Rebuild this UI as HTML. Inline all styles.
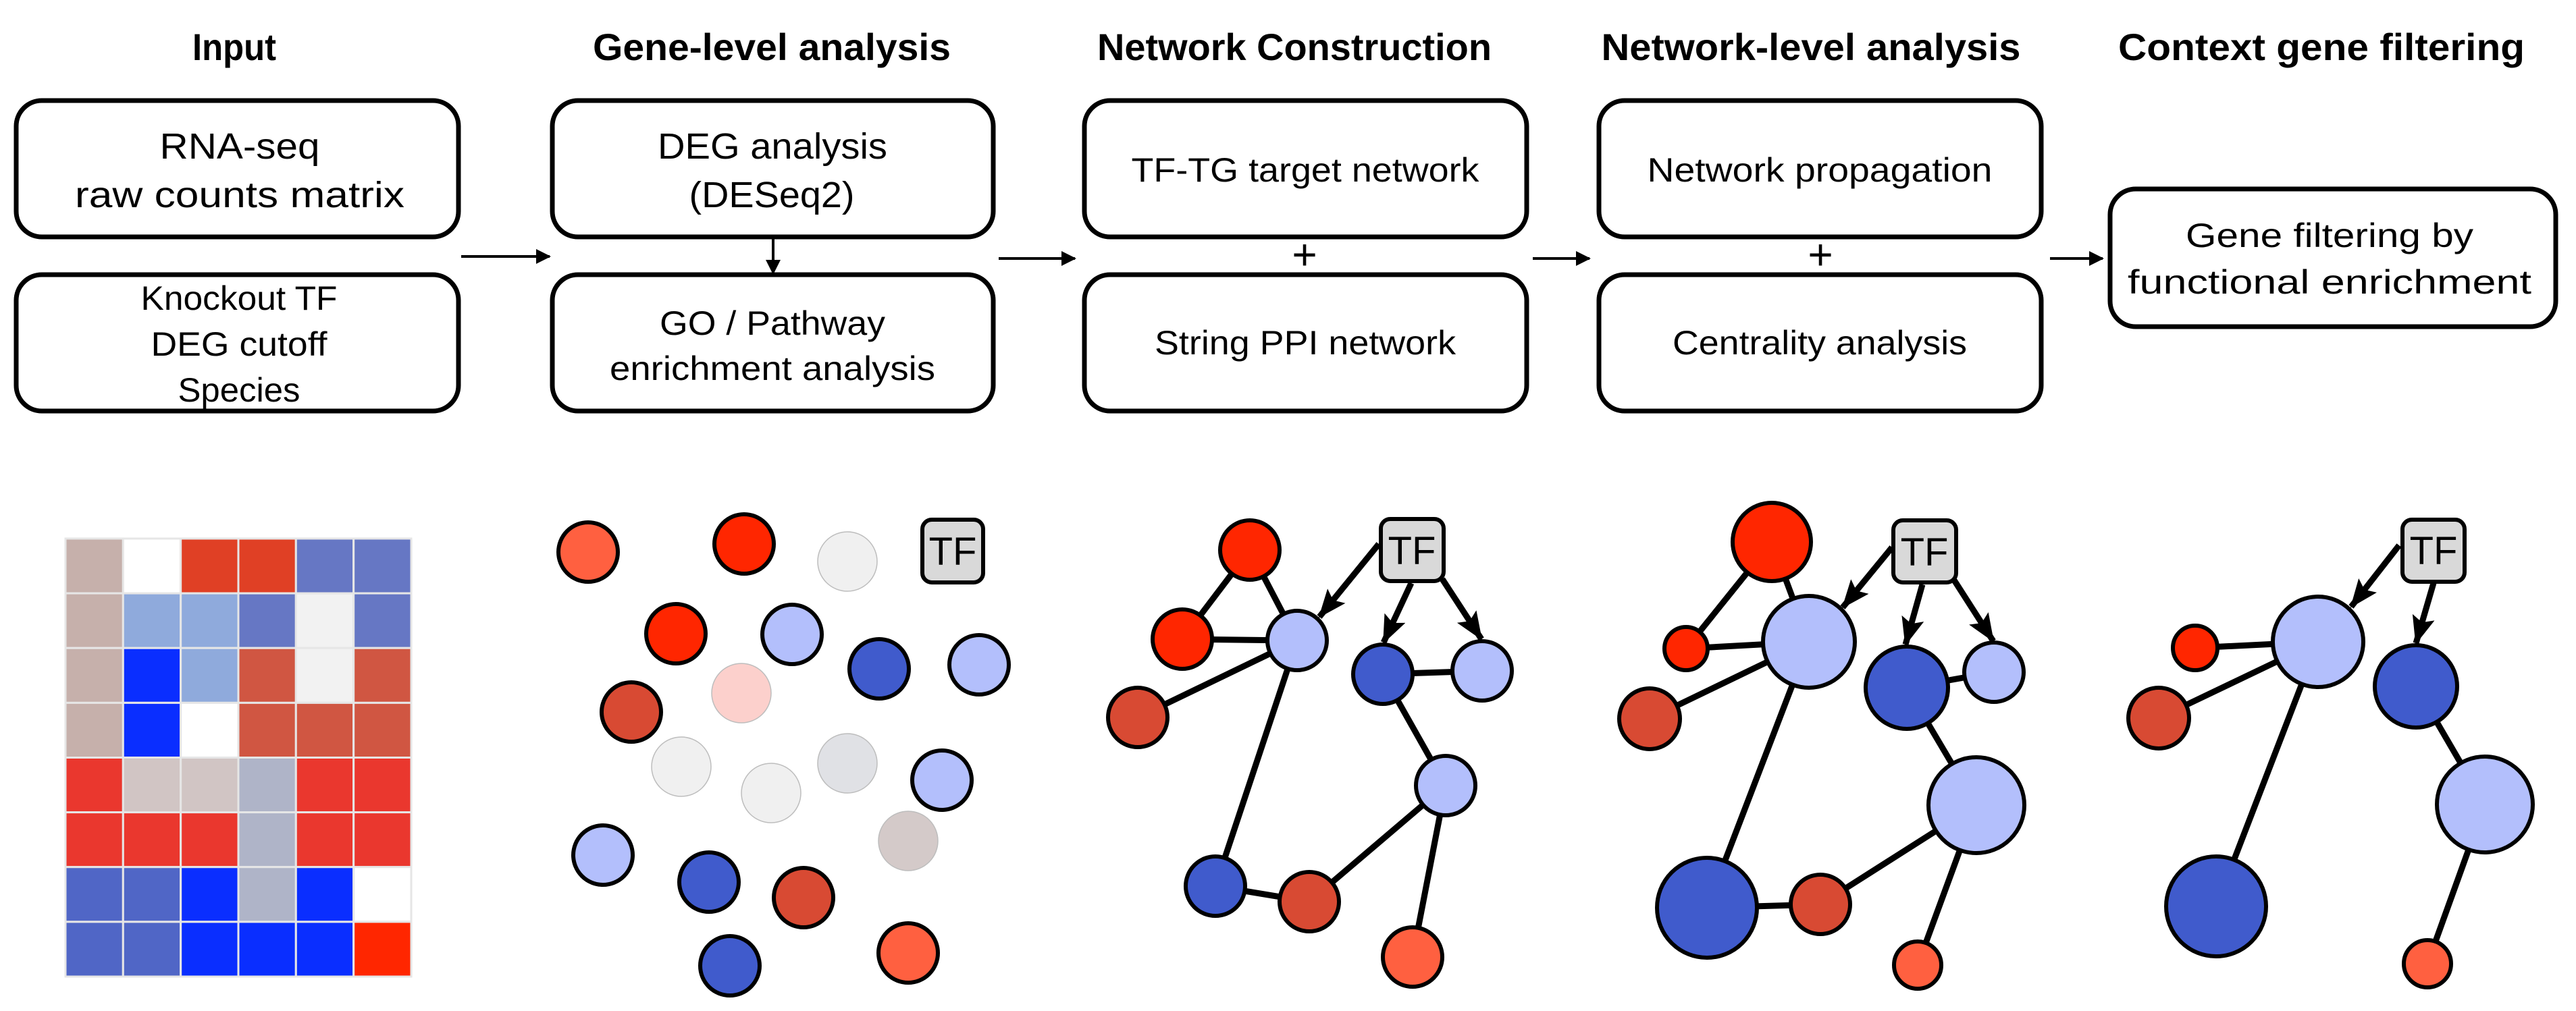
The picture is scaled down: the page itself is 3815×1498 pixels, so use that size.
<!DOCTYPE html>
<html><head><meta charset="utf-8"><style>
html,body{margin:0;padding:0;background:#fff;}
svg{display:block;}
text{font-family:"Liberation Sans",sans-serif;}
</style></head><body>
<svg width="3815" height="1498" viewBox="0 0 3815 1498" xmlns="http://www.w3.org/2000/svg">
<defs>
<marker id="ah" markerUnits="userSpaceOnUse" markerWidth="44" markerHeight="36" refX="40" refY="17" orient="auto"><path d="M0,0 L42,17 L0,34 L8,17 z" fill="#000"/></marker>
<marker id="sa" markerUnits="userSpaceOnUse" markerWidth="24" markerHeight="24" refX="20" refY="11" orient="auto"><path d="M0,0 L22,11 L0,22 z" fill="#000"/></marker>
</defs>

<!-- Titles -->
<g font-weight="bold" font-size="56" text-anchor="middle" fill="#000">
<text x="347" y="89" textLength="124" lengthAdjust="spacingAndGlyphs">Input</text>
<text x="1143" y="89" textLength="530" lengthAdjust="spacingAndGlyphs">Gene-level analysis</text>
<text x="1917" y="89" textLength="584" lengthAdjust="spacingAndGlyphs">Network Construction</text>
<text x="2682" y="89" textLength="621" lengthAdjust="spacingAndGlyphs">Network-level analysis</text>
<text x="3438" y="89" textLength="602" lengthAdjust="spacingAndGlyphs">Context gene filtering</text>
</g>

<!-- Boxes -->
<g fill="none" stroke="#000" stroke-width="7">
<rect x="24" y="149" width="655" height="202" rx="38"/>
<rect x="24" y="407" width="655" height="202" rx="38"/>
<rect x="818" y="149" width="653" height="202" rx="38"/>
<rect x="818" y="407" width="653" height="202" rx="38"/>
<rect x="1606" y="149" width="655" height="202" rx="38"/>
<rect x="1606" y="407" width="655" height="202" rx="38"/>
<rect x="2368" y="149" width="655" height="202" rx="38"/>
<rect x="2368" y="407" width="655" height="202" rx="38"/>
<rect x="3125" y="280" width="660" height="204" rx="38"/>
</g>

<g font-size="54" text-anchor="middle" fill="#000">
<text x="355" y="235" textLength="237" lengthAdjust="spacingAndGlyphs">RNA-seq</text>
<text x="355" y="307" textLength="488" lengthAdjust="spacingAndGlyphs">raw counts matrix</text>
<text x="354" y="459" font-size="50" textLength="291" lengthAdjust="spacingAndGlyphs">Knockout TF</text>
<text x="354" y="527" font-size="50" textLength="261" lengthAdjust="spacingAndGlyphs">DEG cutoff</text>
<text x="354" y="595" font-size="50" textLength="181" lengthAdjust="spacingAndGlyphs">Species</text>
<text x="1144" y="235" textLength="340" lengthAdjust="spacingAndGlyphs">DEG analysis</text>
<text x="1143" y="307" textLength="245" lengthAdjust="spacingAndGlyphs">(DESeq2)</text>
<text x="1144" y="496" font-size="50" textLength="334" lengthAdjust="spacingAndGlyphs">GO / Pathway</text>
<text x="1144" y="563" font-size="50" textLength="482" lengthAdjust="spacingAndGlyphs">enrichment analysis</text>
<text x="1933" y="269" font-size="50" textLength="515" lengthAdjust="spacingAndGlyphs">TF-TG target network</text>
<text x="1933" y="525" font-size="50" textLength="446" lengthAdjust="spacingAndGlyphs">String PPI network</text>
<text x="2695" y="269" font-size="50" textLength="511" lengthAdjust="spacingAndGlyphs">Network propagation</text>
<text x="2695" y="525" font-size="50" textLength="436" lengthAdjust="spacingAndGlyphs">Centrality analysis</text>
<text x="3450" y="366" font-size="50" textLength="426" lengthAdjust="spacingAndGlyphs">Gene filtering by</text>
<text x="3450" y="435" font-size="50" textLength="598" lengthAdjust="spacingAndGlyphs">functional enrichment</text>
<text x="1932" y="399" font-size="64">+</text>
<text x="2696" y="399" font-size="64">+</text>
</g>

<!-- Flow arrows -->
<g stroke="#000" stroke-width="4" marker-end="url(#sa)">
<line x1="683" y1="380" x2="814" y2="380"/>
<line x1="1479" y1="383" x2="1592" y2="383"/>
<line x1="2270" y1="383" x2="2354" y2="383"/>
<line x1="3036" y1="383" x2="3114" y2="383"/>
<line x1="1145" y1="354" x2="1145" y2="405"/>
</g>

<!-- Heatmap -->
<g stroke="#e6e6e6" stroke-width="3">
<rect x="97" y="798" width="512" height="649" fill="#fff" stroke="#d8d8d8"/>
<rect x="97" y="798" width="85.3" height="81.1" fill="#c6b0ab"/><rect x="182.3" y="798" width="85.3" height="81.1" fill="#fff"/><rect x="267.7" y="798" width="85.3" height="81.1" fill="#e04025"/><rect x="353" y="798" width="85.3" height="81.1" fill="#e04025"/><rect x="438.3" y="798" width="85.3" height="81.1" fill="#6677c4"/><rect x="523.7" y="798" width="85.3" height="81.1" fill="#6677c4"/>
<rect x="97" y="879.1" width="85.3" height="81.1" fill="#c6b0ab"/><rect x="182.3" y="879.1" width="85.3" height="81.1" fill="#8faadc"/><rect x="267.7" y="879.1" width="85.3" height="81.1" fill="#8faadc"/><rect x="353" y="879.1" width="85.3" height="81.1" fill="#6677c4"/><rect x="438.3" y="879.1" width="85.3" height="81.1" fill="#f2f2f2"/><rect x="523.7" y="879.1" width="85.3" height="81.1" fill="#6677c4"/>
<rect x="97" y="960.2" width="85.3" height="81.1" fill="#c6b0ab"/><rect x="182.3" y="960.2" width="85.3" height="81.1" fill="#0a2eff"/><rect x="267.7" y="960.2" width="85.3" height="81.1" fill="#8faadc"/><rect x="353" y="960.2" width="85.3" height="81.1" fill="#d05642"/><rect x="438.3" y="960.2" width="85.3" height="81.1" fill="#f2f2f2"/><rect x="523.7" y="960.2" width="85.3" height="81.1" fill="#d05642"/>
<rect x="97" y="1041.4" width="85.3" height="81.1" fill="#c6b0ab"/><rect x="182.3" y="1041.4" width="85.3" height="81.1" fill="#0a2eff"/><rect x="267.7" y="1041.4" width="85.3" height="81.1" fill="#fff"/><rect x="353" y="1041.4" width="85.3" height="81.1" fill="#d05642"/><rect x="438.3" y="1041.4" width="85.3" height="81.1" fill="#d05642"/><rect x="523.7" y="1041.4" width="85.3" height="81.1" fill="#d05642"/>
<rect x="97" y="1122.5" width="85.3" height="81.1" fill="#ea372e"/><rect x="182.3" y="1122.5" width="85.3" height="81.1" fill="#d1c5c4"/><rect x="267.7" y="1122.5" width="85.3" height="81.1" fill="#d1c5c4"/><rect x="353" y="1122.5" width="85.3" height="81.1" fill="#afb4c8"/><rect x="438.3" y="1122.5" width="85.3" height="81.1" fill="#ea372e"/><rect x="523.7" y="1122.5" width="85.3" height="81.1" fill="#ea372e"/>
<rect x="97" y="1203.6" width="85.3" height="81.1" fill="#ea372e"/><rect x="182.3" y="1203.6" width="85.3" height="81.1" fill="#ea372e"/><rect x="267.7" y="1203.6" width="85.3" height="81.1" fill="#ea372e"/><rect x="353" y="1203.6" width="85.3" height="81.1" fill="#afb4c8"/><rect x="438.3" y="1203.6" width="85.3" height="81.1" fill="#ea372e"/><rect x="523.7" y="1203.6" width="85.3" height="81.1" fill="#ea372e"/>
<rect x="97" y="1284.7" width="85.3" height="81.1" fill="#5066c6"/><rect x="182.3" y="1284.7" width="85.3" height="81.1" fill="#5066c6"/><rect x="267.7" y="1284.7" width="85.3" height="81.1" fill="#0a2eff"/><rect x="353" y="1284.7" width="85.3" height="81.1" fill="#afb4c8"/><rect x="438.3" y="1284.7" width="85.3" height="81.1" fill="#0a2eff"/><rect x="523.7" y="1284.7" width="85.3" height="81.1" fill="#fff"/>
<rect x="97" y="1365.9" width="85.3" height="81.1" fill="#5066c6"/><rect x="182.3" y="1365.9" width="85.3" height="81.1" fill="#5066c6"/><rect x="267.7" y="1365.9" width="85.3" height="81.1" fill="#0a2eff"/><rect x="353" y="1365.9" width="85.3" height="81.1" fill="#0a2eff"/><rect x="438.3" y="1365.9" width="85.3" height="81.1" fill="#0a2eff"/><rect x="523.7" y="1365.9" width="85.3" height="81.1" fill="#ff2600"/>
</g>

<!-- TF boxes -->
<g>
<rect x="1366" y="770" width="90" height="93" rx="14" fill="#d9d9d9" stroke="#000" stroke-width="6"/>
<rect x="2045" y="769" width="93" height="92" rx="14" fill="#d9d9d9" stroke="#000" stroke-width="6"/>
<rect x="2804" y="771" width="93" height="92" rx="14" fill="#d9d9d9" stroke="#000" stroke-width="6"/>
<rect x="3558" y="770" width="92" height="92" rx="14" fill="#d9d9d9" stroke="#000" stroke-width="6"/>
</g>
<g font-size="58" text-anchor="middle" fill="#000">
<text x="1411" y="837">TF</text>
<text x="2091" y="836">TF</text>
<text x="2850" y="838">TF</text>
<text x="3604" y="836">TF</text>
</g>

<!-- Gene-level circles -->
<g stroke="#000" stroke-width="6">
<circle cx="871" cy="818" r="44" fill="#ff6040"/>
<circle cx="1102" cy="806" r="44" fill="#ff2600"/>
<circle cx="1001" cy="939" r="44" fill="#ff2600"/>
<circle cx="1173" cy="940" r="44" fill="#b3bffc"/>
<circle cx="1302" cy="991" r="44" fill="#405bcc"/>
<circle cx="1450" cy="985" r="44" fill="#b3bffc"/>
<circle cx="935" cy="1055" r="44" fill="#d84a33"/>
<circle cx="1395" cy="1156" r="44" fill="#b3bffc"/>
<circle cx="893" cy="1267" r="44" fill="#b3bffc"/>
<circle cx="1050" cy="1307" r="44" fill="#405bcc"/>
<circle cx="1190" cy="1330" r="44" fill="#d84a33"/>
<circle cx="1081" cy="1431" r="44" fill="#405bcc"/>
<circle cx="1345" cy="1412" r="44" fill="#ff6040"/>
</g>
<g stroke="#bdbdbd" stroke-width="1.5">
<circle cx="1255" cy="832" r="44" fill="#f0f0f0"/>
<circle cx="1098" cy="1027" r="44" fill="#fcd0cc"/>
<circle cx="1009" cy="1136" r="44" fill="#f0f0f0"/>
<circle cx="1142" cy="1175" r="44" fill="#f0f0f0"/>
<circle cx="1255" cy="1131" r="44" fill="#e0e1e5"/>
<circle cx="1345" cy="1246" r="44" fill="#d4cac9"/>
</g>

<!-- Network 3 -->
<g stroke="#000" stroke-width="9">
<line x1="1851" y1="815" x2="1751" y2="947"/>
<line x1="1851" y1="815" x2="1921" y2="949"/>
<line x1="1751" y1="947" x2="1921" y2="949"/>
<line x1="1921" y1="949" x2="1685" y2="1063"/>
<line x1="1921" y1="949" x2="1800" y2="1313"/>
<line x1="1800" y1="1313" x2="1939" y2="1336"/>
<line x1="1939" y1="1336" x2="2141" y2="1164"/>
<line x1="2141" y1="1164" x2="2092" y2="1418"/>
<line x1="2048" y1="999" x2="2195" y2="994"/>
<line x1="2048" y1="999" x2="2141" y2="1164"/>
<line x1="2042" y1="806" x2="1954" y2="914" marker-end="url(#ah)"/>
<line x1="2090" y1="864" x2="2049" y2="952" marker-end="url(#ah)"/>
<line x1="2136" y1="858" x2="2194" y2="947" marker-end="url(#ah)"/>
</g>
<g stroke="#000" stroke-width="6">
<circle cx="1851" cy="815" r="44" fill="#ff2600"/>
<circle cx="1751" cy="947" r="44" fill="#ff2600"/>
<circle cx="1921" cy="949" r="44" fill="#b3bffc"/>
<circle cx="1685" cy="1063" r="44" fill="#d84a33"/>
<circle cx="2048" cy="999" r="44" fill="#405bcc"/>
<circle cx="2195" cy="994" r="44" fill="#b3bffc"/>
<circle cx="2141" cy="1164" r="44" fill="#b3bffc"/>
<circle cx="1800" cy="1313" r="44" fill="#405bcc"/>
<circle cx="1939" cy="1336" r="44" fill="#d84a33"/>
<circle cx="2092" cy="1418" r="44" fill="#ff6040"/>
</g>

<!-- Network 4 -->
<g stroke="#000" stroke-width="9">
<line x1="2624" y1="803" x2="2497" y2="961"/>
<line x1="2624" y1="803" x2="2679" y2="951"/>
<line x1="2497" y1="961" x2="2679" y2="951"/>
<line x1="2679" y1="951" x2="2443" y2="1065"/>
<line x1="2679" y1="951" x2="2528" y2="1345"/>
<line x1="2528" y1="1345" x2="2696" y2="1340"/>
<line x1="2696" y1="1340" x2="2927" y2="1193"/>
<line x1="2927" y1="1193" x2="2840" y2="1430"/>
<line x1="2824" y1="1019" x2="2953" y2="996"/>
<line x1="2824" y1="1019" x2="2927" y2="1193"/>
<line x1="2802" y1="811" x2="2729" y2="900" marker-end="url(#ah)"/>
<line x1="2847" y1="866" x2="2822" y2="955" marker-end="url(#ah)"/>
<line x1="2893" y1="858" x2="2952" y2="950" marker-end="url(#ah)"/>
</g>
<g stroke="#000" stroke-width="6">
<circle cx="2624" cy="803" r="58" fill="#ff2600"/>
<circle cx="2497" cy="961" r="32" fill="#ff2600"/>
<circle cx="2679" cy="951" r="68" fill="#b3bffc"/>
<circle cx="2443" cy="1065" r="45" fill="#d84a33"/>
<circle cx="2824" cy="1019" r="61" fill="#405bcc"/>
<circle cx="2953" cy="996" r="44" fill="#b3bffc"/>
<circle cx="2927" cy="1193" r="71" fill="#b3bffc"/>
<circle cx="2528" cy="1345" r="74" fill="#405bcc"/>
<circle cx="2696" cy="1340" r="44" fill="#d84a33"/>
<circle cx="2840" cy="1430" r="35" fill="#ff6040"/>
</g>

<!-- Network 5 -->
<g stroke="#000" stroke-width="9">
<line x1="3433" y1="951" x2="3251" y2="960"/>
<line x1="3433" y1="951" x2="3197" y2="1064"/>
<line x1="3433" y1="951" x2="3282" y2="1343"/>
<line x1="3578" y1="1017" x2="3680" y2="1192"/>
<line x1="3680" y1="1192" x2="3595" y2="1428"/>
<line x1="3553" y1="808" x2="3482" y2="899" marker-end="url(#ah)"/>
<line x1="3604" y1="864" x2="3578" y2="953" marker-end="url(#ah)"/>
</g>
<g stroke="#000" stroke-width="6">
<circle cx="3433" cy="951" r="67" fill="#b3bffc"/>
<circle cx="3251" cy="960" r="33" fill="#ff2600"/>
<circle cx="3197" cy="1064" r="45" fill="#d84a33"/>
<circle cx="3578" cy="1017" r="61" fill="#405bcc"/>
<circle cx="3680" cy="1192" r="71" fill="#b3bffc"/>
<circle cx="3282" cy="1343" r="74" fill="#405bcc"/>
<circle cx="3595" cy="1428" r="35" fill="#ff6040"/>
</g>
</svg>
</body></html>
